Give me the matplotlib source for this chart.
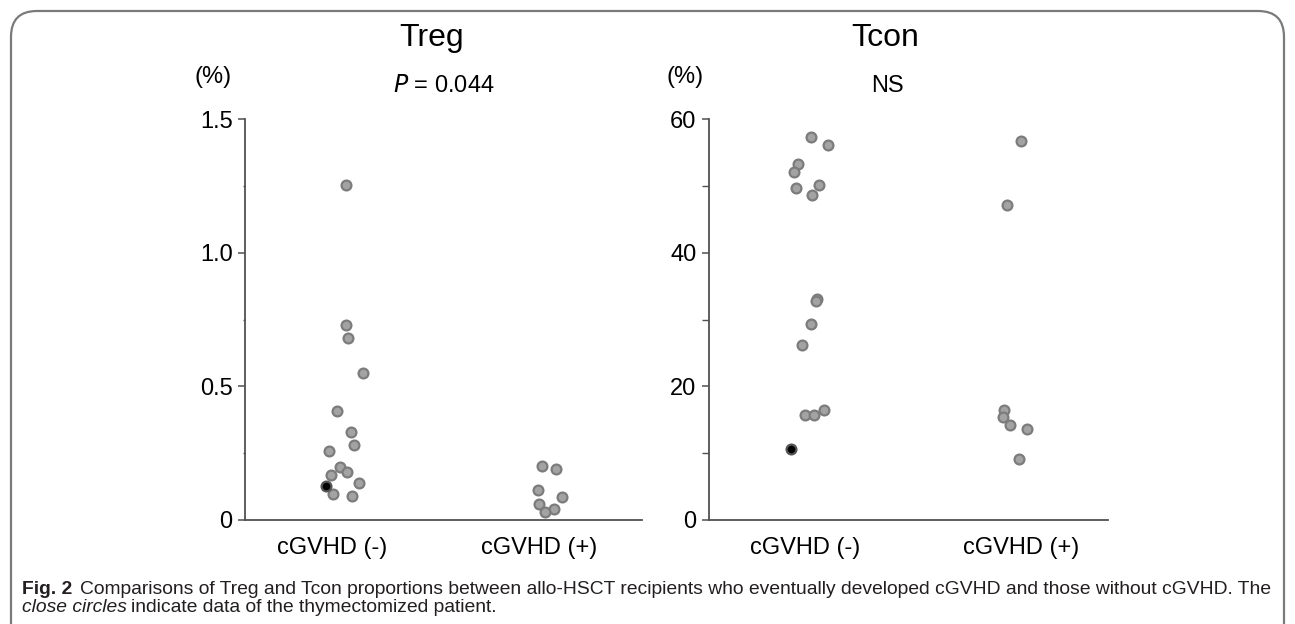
import matplotlib
matplotlib.use('Agg')
import matplotlib.pyplot as plt
from matplotlib.patches import FancyBboxPatch
from matplotlib.ticker import MultipleLocator

plt.rcParams['font.family'] = ['Liberation Sans', 'DejaVu Sans']

groups = ['cGVHD (-)', 'cGVHD (+)']

# Treg (%) values
treg_neg = [1.252, 0.730, 0.680, 0.549, 0.409, 0.329, 0.279, 0.259,
            0.198, 0.180, 0.168, 0.138, 0.098, 0.089]
treg_neg_jit = [0.066, 0.066, 0.079, 0.148, 0.024, 0.092, 0.106, -0.014,
                0.040, 0.072, -0.006, 0.130, 0.006, 0.098]
treg_pos = [0.201, 0.191, 0.113, 0.086, 0.061, 0.042, 0.031]
treg_pos_jit = [0.014, 0.084, -0.006, 0.111, -0.001, 0.071, 0.030]
treg_ticks = [0, 0.5, 1.0, 1.5]
treg_ticklabels = ['0', '0.5', '1.0', '1.5']

# Tcon (%) values
tcon_neg = [57.3, 56.1, 53.3, 52.1, 49.7, 50.1, 48.7, 33.0, 32.7, 29.4,
            26.2, 16.4, 15.7, 15.7]
tcon_neg_jit = [0.026, 0.105, -0.031, -0.051, -0.043, 0.066, 0.032, 0.057,
                0.050, 0.028, -0.014, 0.088, 0.0, 0.040]
tcon_pos = [56.7, 47.2, 16.4, 15.4, 14.2, 13.6, 9.1]
tcon_pos_jit = [0.0, -0.063, -0.079, -0.085, -0.050, 0.028, -0.009]
tcon_ticks = [0, 20, 40, 60]
tcon_ticklabels = ['0', '20', '40', '60']

# thymectomized patient (closed circle), cGVHD (-) group
thym_treg = 0.128
thym_treg_jit = -0.029
thym_tcon = 10.6
thym_tcon_jit = -0.065

W, H = 1295, 624
fig = plt.figure(figsize=(W / 100, H / 100), dpi=100)


def fx(px):
    return px / W


def fy(py):
    return 1 - py / H


gray_face = '#a3a3a3'
gray_edge = '#7c7c7c'
axis_col = '#505050'


def style_axis(ax, ticks, labels, minor, xlim, minor_len):
    ax.set_xlim(*xlim)
    ax.set_ylim(ticks[0], ticks[-1])
    for s in ['top', 'right']:
        ax.spines[s].set_visible(False)
    for s in ['left', 'bottom']:
        ax.spines[s].set_color(axis_col)
        ax.spines[s].set_linewidth(1.3)
    ax.set_xticks([0, 1])
    ax.set_xticklabels(groups, fontsize=17)
    ax.tick_params(axis='x', length=0, pad=12)
    ax.set_yticks(ticks)
    ax.set_yticklabels(labels, fontsize=17)
    ax.yaxis.set_minor_locator(MultipleLocator(minor))
    ax.tick_params(axis='y', which='major', length=5, width=1.1,
                   color=axis_col, pad=4)
    ax.tick_params(axis='y', which='minor', length=minor_len, width=1.0,
                   color=axis_col)
    ax.set_ylim(ticks[0], ticks[-1])


def draw_points(ax, vals, jit, pos):
    ax.scatter([pos + j for j in jit], vals, s=50, c=gray_face,
               edgecolors=gray_edge, linewidths=1.6, zorder=3, clip_on=False)


# Treg panel
ax1 = fig.add_axes([fx(245), fy(520), fx(642 - 245), (520 - 119) / H])
draw_points(ax1, treg_neg, treg_neg_jit, 0)
draw_points(ax1, treg_pos, treg_pos_jit, 1)
ax1.scatter([thym_treg_jit], [thym_treg], s=50, c='black',
            edgecolors='#555555', linewidths=1.6, zorder=4)
style_axis(ax1, treg_ticks, treg_ticklabels, 0.25, (-0.420, 1.498), 1.2)

# Tcon panel
ax2 = fig.add_axes([fx(709), fy(520), fx(1108 - 709), (520 - 119) / H])
draw_points(ax2, tcon_neg, tcon_neg_jit, 0)
draw_points(ax2, tcon_pos, tcon_pos_jit, 1)
ax2.scatter([thym_tcon_jit], [thym_tcon], s=50, c='black',
            edgecolors='#555555', linewidths=1.6, zorder=4)
style_axis(ax2, tcon_ticks, tcon_ticklabels, 10, (-0.444, 1.403), 5)

# titles and annotations
fig.text(fx(432), fy(38), 'Treg', fontsize=23, ha='center', va='center')
fig.text(fx(885), fy(38), 'Tcon', fontsize=23, ha='center', va='center')
fig.text(fx(444), fy(86), r'$\it{P}$ = 0.044', fontsize=17,
         ha='center', va='center')
fig.text(fx(887), fy(86), 'NS', fontsize=17, ha='center', va='center')
fig.text(fx(213), fy(77), '(%)', fontsize=17, ha='center', va='center')
fig.text(fx(685), fy(77), '(%)', fontsize=17, ha='center', va='center')

# caption, pieces placed one after another
renderer = fig.canvas.get_renderer()
cap_col = '#231f20'
cap_size = 13.85


def put(x_px, y_px, s, **kw):
    t = fig.text(fx(x_px), fy(y_px), s, fontsize=cap_size, ha='left',
                 va='center', color=cap_col, **kw)
    bb = t.get_window_extent(renderer)
    return x_px + bb.width


x = put(22, 589, 'Fig. 2', fontweight='bold')
put(x + 8, 589,
    'Comparisons of Treg and Tcon proportions between allo-HSCT recipients '
    'who eventually developed cGVHD and those without cGVHD. The')
x = put(22, 608, 'close circles', style='italic')
put(x + 4, 608, 'indicate data of the thymectomized patient.')

# rounded frame around the figure
frame = FancyBboxPatch((fx(11), fy(660)), fx(1284 - 11), (660 - 11) / H,
                       boxstyle='round,pad=0,rounding_size=0.02',
                       transform=fig.transFigure, fill=False,
                       edgecolor='#7a7a7a', linewidth=1.6,
                       mutation_aspect=W / H)
fig.patches.append(frame)

fig.savefig('out.png', dpi=100)
